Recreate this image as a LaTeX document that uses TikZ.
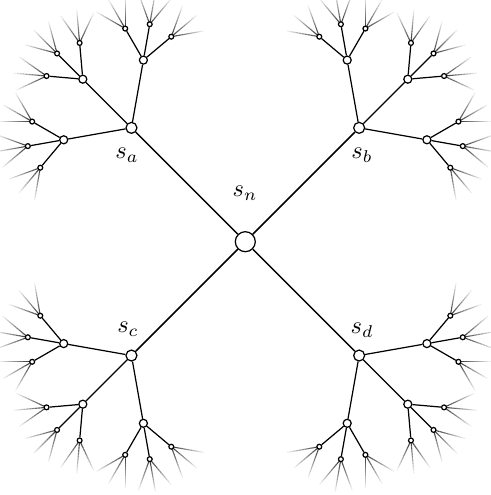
\documentclass[tikz,border=0pt]{standalone}
\usetikzlibrary{calc,backgrounds}
\tikzset{
  nbase/.style={circle,draw=black,fill=white,line width=0.5pt,inner sep=0pt},
  nroot/.style={nbase,minimum size=8.2pt},
  nlev1/.style={nbase,minimum size=4.5pt},
  nlev2/.style={nbase,minimum size=3.3pt},
  nlev3/.style={nbase,minimum size=2.0pt},
  edgemain/.style={line width=0.6pt,black},
  edgesub/.style={line width=0.5pt,black},
  lbl/.style={inner sep=0pt}
}
\begin{document}
\begin{tikzpicture}[x=0.41pt,y=0.41pt]
\useasboundingbox (-245.3,-253.3) rectangle (244.7,241.7);
\node[nroot] (n) at (0,0) {};
\foreach \q/\angA in {a/135,b/45,c/225,d/315}{
  \node[nlev1] (\q) at (\angA:161) {};
  \draw[edgemain] (n) -- (\q);
  \foreach \i/\da in {1/-55,2/0,3/55}{
    \pgfmathsetmacro\angB{\angA+\da}
    \node[nlev2] (\q\i) at ($(\q)+(\angB:68.8)$) {};
    \draw[edgesub] (\q) -- (\q\i);
    \foreach \j/\db in {1/-40,2/0,3/40}{
      \pgfmathsetmacro\angC{\angB+\db}
      \node[nlev3] (\q\i\j) at ($(\q\i)+(\angC:36.4)$) {};
      \draw[edgesub] (\q\i) -- (\q\i\j);
      \begin{scope}[on background layer]
      \foreach \dc in {-30,0,30}{
        \pgfmathsetmacro\angD{\angC+\dc}
        \foreach \s in {0,...,10}{
          \pgfmathsetmacro\shade{80*(1-\s/11)}
          \draw[line width=0.45pt,color=black!\shade]
            ($(\q\i\j.center)+(\angD:3*\s)$) -- ($(\q\i\j.center)+(\angD:3*\s+3)$);
        }
      }
      \end{scope}
    }
  }
}
\node[lbl] (ln) at (-0.3,48.7) {$s_n$};
\node[lbl] (la) at (-118.3,86.7) {$s_a$};
\node[lbl] (lb) at (116.7,86.7) {$s_b$};
\node[lbl] (lc) at (-117.3,-87.8) {$s_c$};
\node[lbl] (ld) at (116.7,-88.3) {$s_d$};
\end{tikzpicture}
\end{document}
